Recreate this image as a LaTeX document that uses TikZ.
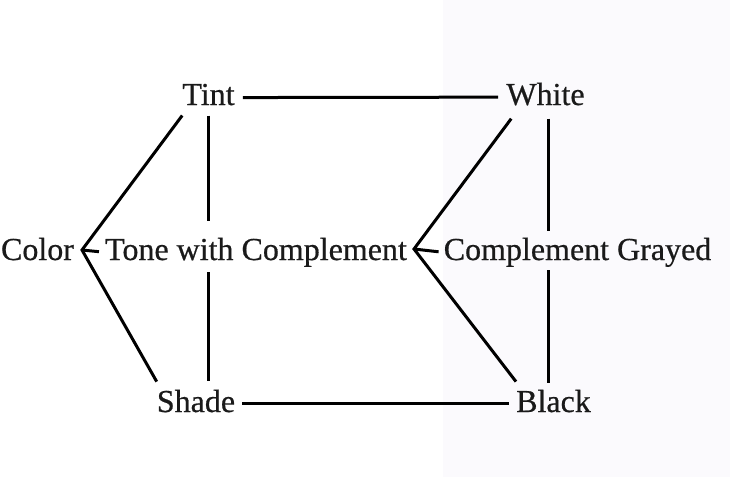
\documentclass[tikz,border=0pt]{standalone}
\usepackage{fontspec}
\setmainfont{Liberation Serif}
\newfontfamily\termfont{Liberation Serif}[FakeBold=0.6]
\definecolor{panel}{HTML}{FBFAFD}
\definecolor{ink}{HTML}{1A1A1A}
\begin{document}
\begin{tikzpicture}[x=1pt,y=-1pt,
  term/.style={inner sep=0pt, anchor=base, text=ink, font=\termfont\fontsize{32}{32}\selectfont},
  link/.style={line width=3pt, draw=black}]
\useasboundingbox (0,0) rectangle (730,480);
% faint panel behind the right column
\fill[panel] (443,0) rectangle (730,477);

% terms
\node[term] (tint)  at (208.5,105) {Tint};
\node[term] (white) at (545.5,105) {White};
\node[term] (color) at (37.5,260) {Color};
\node[term] (tone)  at (256,260) {Tone with Complement};
\node[term] (gray)  at (577.5,260) {Complement Grayed};
\node[term] (shade) at (196,412) {Shade};
\node[term] (black) at (553.5,412) {Black};

% chevron tips
\coordinate (lt) at (82,250);
\coordinate (rt) at (414,249);

% top and bottom rails
\draw[link, shorten <=8pt, shorten >=8pt] ([yshift=-3pt]tint.east) -- ([yshift=-3pt]white.west);
\draw[link, shorten <=7pt, shorten >=7pt] ([yshift=-2pt]shade.east) -- ([yshift=-2pt]black.west);

% left chevron
\draw[link] ([yshift=-10pt]tint.south west) -- (lt) -- ([yshift=8pt]shade.north west);
\draw[link, shorten >=6pt] (lt) -- (tone.west);

% right chevron
\draw[link] ([xshift=5pt,yshift=-13pt]white.south west) -- (rt) -- ([yshift=8pt]black.north west);
\draw[link, shorten >=5pt] (rt) -- (gray.west);

% verticals through the middle row
\draw[link, shorten <=10pt, shorten >=17pt] (tint.south) -- (tint.south |- tone.north);
\draw[link, shorten <=5pt, shorten >=8.5pt] (tint.south |- tone.south) -- (tint.south |- shade.north);
\draw[link, shorten <=13pt, shorten >=6.5pt] ([xshift=2.5pt]white.south) -- ([xshift=2.5pt]white.south |- gray.north);
\draw[link, shorten <=3.3pt, shorten >=6.5pt] ([xshift=2.5pt]white.south |- gray.south) -- ([xshift=2.5pt]white.south |- black.north);
\end{tikzpicture}
\end{document}
